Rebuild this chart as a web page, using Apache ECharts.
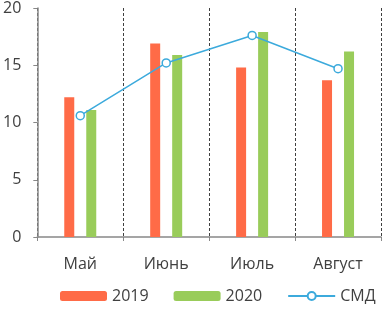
<!DOCTYPE html>
<html>
<head>
    <meta charset="utf-8">
    <title>Май - Август</title>
    <script src="https://cdn.jsdelivr.net/npm/echarts@6/dist/echarts.min.js"></script>
    <style>
        html, body { margin: 0; padding: 0; background: #fff; }
    </style>
</head>
<body>
    <div id="main" style="width: 383px;height:310px;"></div>
    <script type="text/javascript">
        // данные
        var months = ['Май', 'Июнь', 'Июль', 'Август'];
        var y2019 = [12.2, 16.9, 14.8, 13.7];
        var y2020 = [11.1, 15.9, 17.9, 16.2];
        var smd = [10.6, 15.2, 17.6, 14.7];
        var yTicks = { min: 0, max: 20, interval: 5 };

        var font = '"Open Sans", "Liberation Sans", sans-serif';
        var myChart = echarts.init(document.getElementById('main'));

        var option = {
            animation: false,
            textStyle: { fontFamily: font },
            grid: { left: 36, right: 2, top: 8, bottom: 73 },
            legend: {
                bottom: 1,
                left: 55,
                itemWidth: 47,
                itemHeight: 10,
                itemGap: 25,
                textStyle: { fontSize: 16, color: '#404040', fontFamily: font },
                data: ['2019', '2020', 'СМД']
            },
            xAxis: {
                type: 'category',
                data: months,
                axisLine: { lineStyle: { color: '#888', width: 1.5 } },
                axisTick: { show: true, length: 4, lineStyle: { color: '#888' } },
                axisLabel: { fontSize: 16, color: '#404040', margin: 19 },
                splitLine: {
                    show: true,
                    lineStyle: { color: '#404040', type: [3, 2], width: 1 }
                }
            },
            yAxis: {
                type: 'value',
                min: yTicks.min,
                max: yTicks.max,
                interval: yTicks.interval,
                axisLine: { show: true, lineStyle: { color: '#888', width: 1.5 } },
                axisTick: { show: true, length: 4, lineStyle: { color: '#888' } },
                axisLabel: { fontSize: 16, color: '#404040', margin: 16 },
                splitLine: { show: false }
            },
            series: [
                {
                    name: '2019',
                    type: 'bar',
                    data: y2019,
                    barWidth: 10,
                    barGap: '120%',
                    itemStyle: { color: '#FF6B47' }
                },
                {
                    name: '2020',
                    type: 'bar',
                    data: y2020,
                    barWidth: 10,
                    itemStyle: { color: '#99CC5A' }
                },
                {
                    name: 'СМД',
                    type: 'line',
                    data: smd,
                    symbol: 'circle',
                    symbolSize: 8,
                    lineStyle: { color: '#3CAADC', width: 1.5 },
                    itemStyle: { color: '#fff', borderColor: '#3CAADC', borderWidth: 1.5 },
                    z: 5
                }
            ]
        };
        myChart.setOption(option);
    </script>
</body>
</html>
